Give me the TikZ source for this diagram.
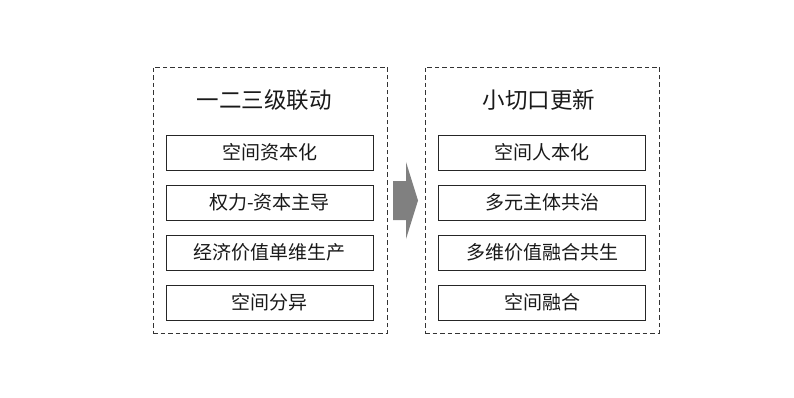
\documentclass[tikz,border=0pt]{standalone}
\usepackage{fontspec}
\newfontfamily\cjk{Noto Sans CJK SC}
\begin{document}
\begin{tikzpicture}[x=1pt,y=-1pt,
  outer/.style={draw=black!80,line width=0.9pt,dash pattern=on 4.5pt off 3pt},
  item/.style={draw=black!85,line width=0.9pt,minimum width=207pt,minimum height=35pt,inner sep=0pt,font=\cjk\fontsize{19}{21}\selectfont,text=black!90},
  ttl/.style={font=\cjk\fontsize{22.5}{25}\selectfont,text=black!90,inner sep=0pt}]
\useasboundingbox (0,0) rectangle (794,398);
\fill[white] (0,0) rectangle (794,398);
% left panel
\node[outer,minimum width=234pt,minimum height=266pt,inner sep=0pt] (L) at (270,200) {};
\node[ttl] (Lt) at (264,100) {一二三级联动};
\node[item] (L1) at (269.5,152.5) {空间资本化};
\node[item] (L2) at (269.5,202.5) {权力-资本主导};
\node[item] (L3) at (269.5,252.5) {经济价值单维生产};
\node[item] (L4) at (269.5,302.5) {空间分异};
% right panel
\node[outer,minimum width=234pt,minimum height=266pt,inner sep=0pt] (R) at (542,200) {};
\node[ttl] (Rt) at (539,100) {小切口更新};
\node[item] (R1) at (542,152.5) {空间人本化};
\node[item] (R2) at (542,202.5) {多元主体共治};
\node[item] (R3) at (542,252.5) {多维价值融合共生};
\node[item] (R4) at (542,302.5) {空间融合};
% arrow
\fill[black!50] (393,181) -- (406,181) -- (406,162) -- (418,200.5) -- (406,239) -- (406,220) -- (393,220) -- cycle;
\end{tikzpicture}
\end{document}
